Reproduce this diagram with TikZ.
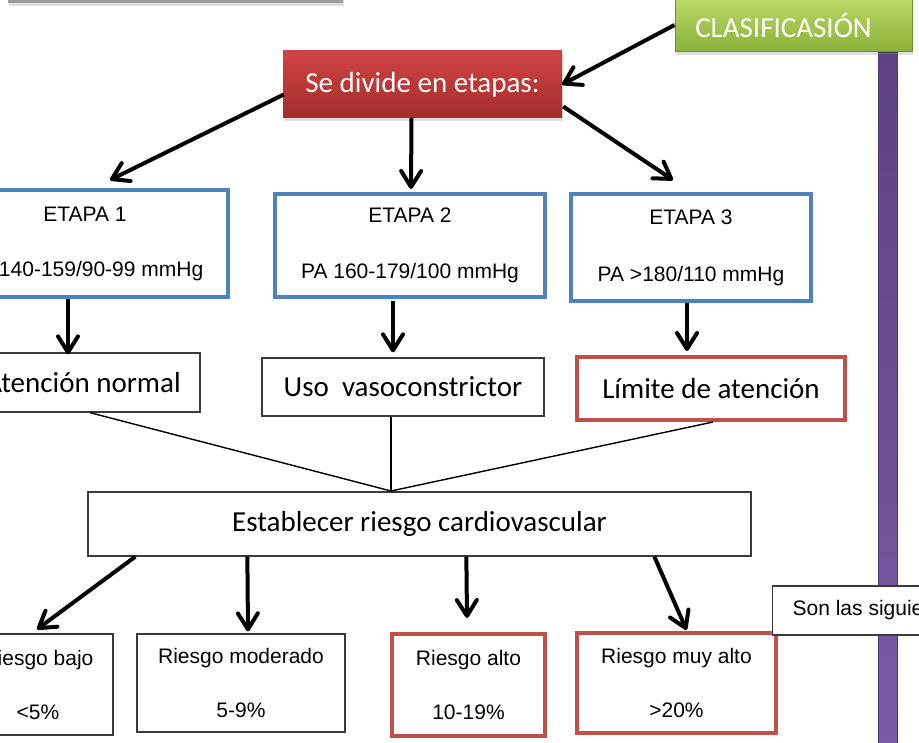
\documentclass[tikz,border=0pt]{standalone}
\usepackage{fontspec}
\setmainfont{Liberation Sans}
\newfontfamily\calib{Carlito}
\usetikzlibrary{arrows.meta,calc,shadows}
\definecolor{bluebd}{HTML}{4F81BD}
\definecolor{redbd}{HTML}{C0504D}
\definecolor{thinbd}{HTML}{3A3A3A}
\definecolor{redtop}{HTML}{D24444}
\definecolor{redbot}{HTML}{A42C2C}
\definecolor{greentop}{HTML}{BCD966}
\definecolor{greenbot}{HTML}{8AB23B}
\definecolor{greenbd}{HTML}{718F2E}
\definecolor{purtop}{HTML}{5E4181}
\definecolor{purbot}{HTML}{7C59A7}
\definecolor{purbd}{HTML}{4E3670}
\definecolor{topgray}{HTML}{9C9C9C}
\begin{document}
\begin{tikzpicture}[x=1pt,y=-1pt,
  arialtxt/.style={font=\fontsize{21}{26}\selectfont},
  caltxt/.style={font=\calib\fontsize{29}{34}\selectfont},
  box/.style={rectangle, inner sep=0pt, align=center},
  bluebox/.style={box, draw=bluebd, line width=4pt, fill=white, arialtxt},
  redbox/.style={box, draw=redbd, line width=4pt, fill=white},
  thinbox/.style={box, draw=thinbd, line width=1.3pt, fill=white},
  softshadow/.style={drop shadow={opacity=0.25, shadow xshift=1pt, shadow yshift=-3pt}},
  bigarrow/.style={line width=4pt, black, -{Straight Barb[length=16pt,width=20pt,line join=round,line cap=round]}},
  thinline/.style={line width=1.4pt, black},
]
\useasboundingbox (0,0) rectangle (919,743);
\clip (0,0) rectangle (919,743);

% decorative top bar
\node[box, fill=topgray, minimum width=335pt, minimum height=8pt, softshadow] (topbar) at (175.5,-1) {};

% purple bar
\node[box, top color=purtop, bottom color=purbot, draw=purbd, line width=0.8pt,
      minimum width=19pt, minimum height=700pt] (bar) at (887.5,402) {};

% classification box
\node[box, top color=greentop, bottom color=greenbot, draw=greenbd, line width=1pt,
      minimum width=237pt, minimum height=54pt, text=white, caltxt, softshadow] (clas) at (793.5,25)
      {\hspace*{-20pt}CLASIFICASIÓN};

% se divide
\node[box, top color=redtop, bottom color=redbot, minimum width=279pt, minimum height=67pt,
      text=white, caltxt, softshadow] (divide) at (422.5,84.5) {Se divide en etapas:};

% etapas
\node[bluebox, minimum width=286pt, minimum height=107pt] (etapa1) at (85,243.5)
  {ETAPA 1\\[29pt]PA 140-159/90-99 mmHg};
\node[bluebox, minimum width=270pt, minimum height=103pt] (etapa2) at (410,245.5)
  {ETAPA 2\\[30pt]PA 160-179/100 mmHg};
\node[bluebox, minimum width=240pt, minimum height=107pt] (etapa3) at (691,247.5)
  {ETAPA 3\\[31pt]PA >180/110 mmHg};

% actions
\node[thinbox, caltxt, minimum width=234pt, minimum height=59pt] (atencion) at (83,382.5) {Atención normal};
\node[thinbox, caltxt, minimum width=282pt, minimum height=58pt] (uso) at (403,387) {Uso\ \ vasoconstrictor};
\node[redbox, caltxt, minimum width=268pt, minimum height=63pt] (limite) at (711,388.5) {Límite de atención};

% establecer
\node[thinbox, caltxt, minimum width=663pt, minimum height=64pt] (estab) at (419.5,524) {Establecer riesgo cardiovascular};

% risks
\node[thinbox, arialtxt, minimum width=150pt, minimum height=101pt] (bajo) at (38,684.5) {Riesgo bajo\\[28pt]<5\%};
\node[thinbox, arialtxt, minimum width=208pt, minimum height=98pt] (moderado) at (241,683) {Riesgo moderado\\[28pt]5-9\%};
\node[redbox, arialtxt, minimum width=153pt, minimum height=102pt] (alto) at (468.5,685) {Riesgo alto\\[28pt]10-19\%};
\node[redbox, arialtxt, minimum width=199pt, minimum height=100pt] (muyalto) at (676.5,683) {Riesgo muy alto\\[28pt]>20\%};

% son las siguientes
\node[thinbox, arialtxt, anchor=west, minimum height=49pt, inner xsep=20pt] (son) at (772,610.5) {Son las siguientes};

% thick arrows
\draw[bigarrow] (clas.west) -- (divide.east);
\draw[bigarrow] ($(divide.west)+(1,10)$) -- ($(etapa1.north)+(25,-8)$);
\draw[bigarrow] ($(divide.south)+(-11,0)$) -- ($(etapa2.north)+(1,-3)$);
\draw[bigarrow] ($(divide.east)+(1,22)$) -- ($(etapa3.north)+(-18,-12)$);
\draw[bigarrow] ($(etapa1.south)+(-17,0)$) -- ($(atencion.north)+(-15,2)$);
\draw[bigarrow] ($(etapa2.south)+(-17,2)$) -- ($(uso.north)+(-10,-5)$);
\draw[bigarrow] ($(etapa3.south)+(-4,0)$) -- ($(limite.north)+(-24,-4)$);

% thin converging lines
\coordinate (meet) at (391,491);
\draw[thinline] ($(atencion.south)+(7,0)$) -- (meet);
\draw[thinline] (uso.south -| meet) -- (meet);
\draw[thinline] ($(limite.south)+(2,0)$) -- (meet);

% risk arrows
\draw[bigarrow] ($(estab.south west)+(48,0)$) -- ($(bajo.north)+(-1,-4)$);
\draw[bigarrow] ($(estab.south west)+(160,0)$) -- ($(moderado.north)+(7,-2)$);
\draw[bigarrow] ($(estab.south west)+(379,0)$) -- ($(alto.north)+(-1.5,-14)$);
\draw[bigarrow] ($(estab.south west)+(567,0)$) -- ($(muyalto.north)+(10,-1)$);
\end{tikzpicture}
\end{document}
